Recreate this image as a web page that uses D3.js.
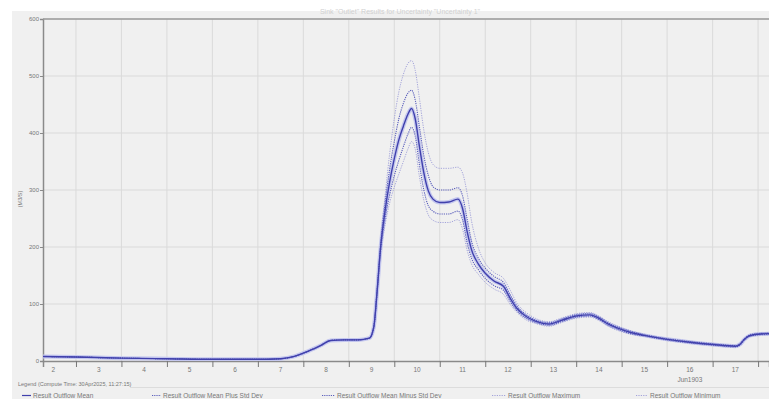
<!DOCTYPE html>
<html>
<head>
<meta charset="utf-8">
<script src="https://cdn.jsdelivr.net/npm/d3@7"></script>
<style>
  body { margin: 0; background: #fff; }
  svg { display: block; font-family: "Liberation Sans", Arial, sans-serif; }
</style>
</head>
<body>
<svg id="chart" width="769" height="399"></svg>
<script>
// time in days of June 1903
const days = [2.27, 3, 4, 5, 6, 7, 7.5, 7.8, 8.1, 8.4, 8.6, 8.9, 9.2, 9.45, 9.55, 9.62, 9.7, 9.8, 9.9, 10.0,
  10.1, 10.2, 10.3, 10.38, 10.46, 10.55, 10.65, 10.75, 10.85, 11.0, 11.2, 11.4, 11.5, 11.6, 11.7, 11.85,
  12.0, 12.2, 12.4, 12.55, 12.7, 12.9, 13.1, 13.4, 13.7, 14.0, 14.3, 14.5, 14.7, 14.9, 15.2, 15.5,
  16.0, 16.5, 17.0, 17.5, 17.6, 17.7, 17.8, 17.9, 18.0, 18.24];

const outflowMean = [8, 7, 5, 4, 3, 3, 4, 8, 17, 28, 36, 37, 37, 40, 60, 120, 200, 265, 315, 355,
  388, 412, 433, 443, 425, 378, 330, 298, 284, 278, 279, 284, 268, 228, 195, 170,
  154, 140, 131, 110, 92, 78, 70, 65, 72, 79, 81, 75, 65, 58, 50, 45,
  38, 33, 29, 26, 29, 38, 44, 46, 47, 48];

const outflowPlusSd = [8, 7, 5, 4, 3, 3, 4, 8, 17, 28, 36, 37, 37, 40, 61, 122, 205, 278, 338, 385,
  425, 452, 470, 475, 458, 412, 360, 325, 306, 300, 300, 304, 290, 250, 210, 180,
  163, 148, 138, 116, 96, 81, 72, 67, 74, 81, 83, 77, 67, 60, 52, 46,
  39, 34, 30, 27, 30, 39, 45, 47, 48, 49];

const outflowMinusSd = [8, 7, 5, 4, 3, 3, 4, 8, 17, 28, 36, 37, 37, 40, 59, 118, 195, 252, 292, 325,
  352, 376, 398, 410, 395, 346, 300, 272, 263, 258, 258, 263, 248, 208, 180, 160,
  145, 132, 124, 104, 88, 75, 68, 63, 70, 77, 79, 73, 63, 56, 48, 44,
  37, 32, 28, 25, 28, 37, 43, 45, 46, 47];

const outflowMax = [8, 7, 5, 4, 3, 3, 4, 8, 17, 28, 36, 37, 37, 40, 62, 125, 212, 292, 365, 425,
  472, 503, 522, 527, 510, 462, 405, 365, 345, 338, 338, 340, 330, 295, 245, 198,
  172, 155, 145, 124, 101, 85, 75, 69, 76, 83, 85, 79, 69, 62, 53, 47,
  40, 35, 31, 28, 31, 40, 46, 48, 49, 50];

const outflowMin = [8, 7, 5, 4, 3, 3, 4, 8, 17, 28, 36, 37, 37, 40, 58, 115, 188, 240, 278, 305,
  328, 350, 372, 385, 372, 325, 282, 256, 247, 243, 243, 248, 232, 195, 170, 152,
  138, 126, 117, 99, 85, 72, 66, 61, 68, 75, 77, 71, 61, 54, 47, 43,
  36, 31, 27, 24, 27, 36, 42, 44, 45, 46];

const yTicks = [0, 100, 200, 300, 400, 500, 600];
const dayTicks = d3.range(3, 19);
const dayLabels = d3.range(2, 18);

const seriesNames = ["Result Outflow Mean", "Result Outflow Mean Plus Std Dev", "Result Outflow Mean Minus Std Dev",
  "Result Outflow Maximum", "Result Outflow Minimum"];

const svg = d3.select("#chart");
const plotLeft = 43, plotRight = 769, plotTop = 19, plotBottom = 361;

const x = d3.scaleLinear().domain([2.275, 18.24]).range([plotLeft, plotRight]);
const y = d3.scaleLinear().domain([0, 600]).range([plotBottom, plotTop]);

// panel background
svg.append("rect").attr("x", 12).attr("y", 11).attr("width", 757).attr("height", 388).attr("fill", "#f0f0f0");

// title (faint)
svg.append("text").attr("x", 400).attr("y", 14).attr("text-anchor", "middle")
  .attr("font-size", 7).attr("fill", "#d0d0d0")
  .text("Sink \"Outlet\" Results for Uncertainty \"Uncertainty 1\"");

// grid
svg.append("g").selectAll("line").data(dayTicks).join("line")
  .attr("x1", d => x(d)).attr("x2", d => x(d)).attr("y1", plotTop).attr("y2", plotBottom)
  .attr("stroke", "#dadada").attr("stroke-width", 1);
svg.append("g").selectAll("line").data(yTicks.slice(1)).join("line")
  .attr("x1", plotLeft).attr("x2", plotRight).attr("y1", d => y(d)).attr("y2", d => y(d))
  .attr("stroke", "#dadada").attr("stroke-width", 1);

// axes
const yAxis = svg.append("g").attr("transform", "translate(" + plotLeft + ",0)")
  .call(d3.axisLeft(y).tickValues(yTicks).tickSize(3).tickPadding(1));
yAxis.select(".domain").attr("stroke", "#8a8a8a").attr("stroke-width", 1.5);
yAxis.selectAll("line").attr("stroke", "#8a8a8a");
yAxis.selectAll("text").attr("font-size", 6).attr("fill", "#777");

const xAxis = svg.append("g").attr("transform", "translate(0," + plotBottom + ")")
  .call(d3.axisBottom(x).tickValues(dayTicks).tickSize(6).tickFormat(""));
xAxis.select(".domain").attr("stroke", "#8a8a8a").attr("stroke-width", 1.5);
xAxis.selectAll("line").attr("stroke", "#777");

svg.append("g").selectAll("text").data(dayLabels).join("text")
  .attr("x", d => x(d + 0.5)).attr("y", 372).attr("text-anchor", "middle")
  .attr("font-size", 6.5).attr("fill", "#777").text(d => d);

svg.append("text").attr("x", x(16.5)).attr("y", 382).attr("text-anchor", "middle")
  .attr("font-size", 6.5).attr("fill", "#777").text("Jun1903");

// top border
svg.append("line").attr("x1", plotLeft).attr("x2", plotRight).attr("y1", plotTop).attr("y2", plotTop)
  .attr("stroke", "#9a9a9a").attr("stroke-width", 1.5);

// y label
svg.append("text").attr("transform", "translate(22,199) rotate(-90)").attr("text-anchor", "middle")
  .attr("font-size", 5.5).attr("fill", "#777").text("(M3/S)");

// lines
const line = d3.line().x((d, i) => x(days[i])).y(d => y(d)).curve(d3.curveMonotoneX);
const styles = [
  { data: outflowMean, color: "#c3c6ee", width: 4, dash: null },
  { data: outflowMin, color: "#a3a3da", width: 1, dash: "1.2,1.2" },
  { data: outflowMax, color: "#a3a3da", width: 1, dash: "1.2,1.2" },
  { data: outflowMinusSd, color: "#5a5ebc", width: 1.1, dash: "1.2,1" },
  { data: outflowPlusSd, color: "#5a5ebc", width: 1.1, dash: "1.2,1" },
  { data: outflowMean, color: "#4040ac", width: 1.4, dash: null }
];
const plot = svg.append("g");
plot.append("clipPath").attr("id", "clip").append("rect")
  .attr("x", plotLeft).attr("y", plotTop).attr("width", plotRight - plotLeft).attr("height", plotBottom - plotTop);
styles.forEach(s => {
  plot.append("path").datum(s.data).attr("clip-path", "url(#clip)")
    .attr("fill", "none").attr("stroke", s.color).attr("stroke-width", s.width)
    .attr("stroke-dasharray", s.dash).attr("d", line);
});

// legend
svg.append("text").attr("x", 18).attr("y", 386).attr("font-size", 5.5).attr("fill", "#777")
  .text("Legend (Compute Time: 30Apr2025, 11:27:15)");
svg.append("line").attr("x1", 130).attr("x2", 769).attr("y1", 387.5).attr("y2", 387.5)
  .attr("stroke", "#dcdcdc");

const legendItems = [
  { name: seriesNames[0], lx: 22, tx: 33, color: "#4040ac", dash: null },
  { name: seriesNames[1], lx: 152, tx: 163, color: "#5a5ebc", dash: "1.2,1" },
  { name: seriesNames[2], lx: 322, tx: 337, color: "#5a5ebc", dash: "1.2,1" },
  { name: seriesNames[3], lx: 492, tx: 508, color: "#a3a3da", dash: "1.2,1.2" },
  { name: seriesNames[4], lx: 636, tx: 650, color: "#a3a3da", dash: "1.2,1.2" }
];
const lg = svg.append("g").selectAll("g").data(legendItems).join("g");
lg.append("line").attr("x1", d => d.lx).attr("x2", d => d.tx - 2).attr("y1", 395.5).attr("y2", 395.5)
  .attr("stroke", d => d.color).attr("stroke-width", 1.2).attr("stroke-dasharray", d => d.dash);
lg.append("text").attr("x", d => d.tx).attr("y", 398).attr("font-size", 6.5).attr("fill", "#777")
  .text(d => d.name);
</script>
</body>
</html>
